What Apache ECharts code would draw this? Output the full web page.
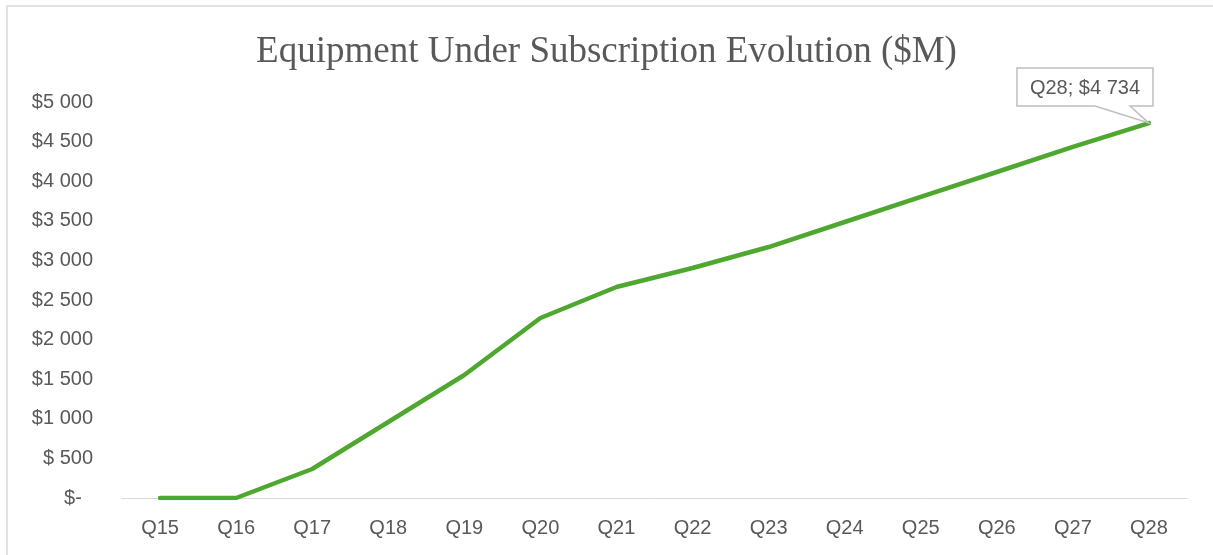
<!DOCTYPE html>
<html>
<head>
<meta charset="utf-8">
<script src="https://cdn.jsdelivr.net/npm/echarts@6/dist/echarts.min.js"></script>
<style>html,body{margin:0;padding:0;background:#fff;}#c{width:1213px;height:555px;}</style>
</head>
<body>
<div id="c"></div>
<script>
const titleText = 'Equipment Under Subscription Evolution ($M)';
const categories = ['Q15','Q16','Q17','Q18','Q19','Q20','Q21','Q22','Q23','Q24','Q25','Q26','Q27','Q28'];
const values = [0, 0, 366, 960, 1553, 2273, 2664, 2904, 3169, 3485, 3801, 4116, 4432, 4734];
const yMin = 0, yMax = 5000, yInterval = 500;
const labelIndex = 13;

function fmtMoney(v) {
  if (v === 0) return '$-  ';
  if (v < 1000) return '$ ' + v;
  return '$' + Math.floor(v / 1000) + ' ' + String(v % 1000).padStart(3, '0');
}

const chart = echarts.init(document.getElementById('c'), null, {renderer: 'canvas'});
const textColor = '#595959';
const option = {
  backgroundColor: '#ffffff',
  animation: false,
  title: {
    text: titleText,
    left: 'center',
    top: 29,
    textStyle: {fontFamily: 'Liberation Serif', fontSize: 37, fontWeight: 'normal', color: textColor}
  },
  grid: {left: 122, right: 26, top: 102, bottom: 57},
  xAxis: {
    type: 'category',
    data: categories,
    boundaryGap: true,
    axisLine: {lineStyle: {color: '#d9d9d9', width: 1}},
    axisTick: {show: false},
    axisLabel: {color: textColor, fontFamily: 'Liberation Sans', fontSize: 20, margin: 20}
  },
  yAxis: {
    type: 'value',
    min: yMin, max: yMax, interval: yInterval,
    axisLine: {show: false},
    axisTick: {show: false},
    splitLine: {show: false},
    axisLabel: {color: textColor, fontFamily: 'Liberation Sans', fontSize: 20, margin: 29, formatter: fmtMoney}
  },
  series: [{
    type: 'line',
    data: values,
    symbol: 'none',
    lineStyle: {color: '#4EA72E', width: 4.5, cap: 'round', join: 'round'},
    itemStyle: {color: '#4EA72E'}
  }]
};
chart.setOption(option);

const tip = chart.convertToPixel({gridIndex: 0}, [labelIndex, values[labelIndex]]);
const tx = tip[0], ty = tip[1];
const L = tx - 132, R = tx + 4, T = ty - 55, B = ty - 17;
chart.setOption({
  graphic: [
    {type: 'rect', shape: {x: 7, y: 6, width: 1230, height: 570}, style: {fill: 'none', stroke: '#d9d9d9', lineWidth: 1.5}, silent: true, z: 0},
    {type: 'polygon', shape: {points: [[L, T], [R, T], [R, B], [tx - 19, B], [tx, ty], [tx - 54, B], [L, B]]},
     style: {fill: '#ffffff', stroke: '#bfbfbf', lineWidth: 1.5}, z: 100},
    {type: 'text', x: (L + R) / 2, y: (T + B) / 2 + 1, z: 101,
     style: {text: categories[labelIndex] + '; ' + fmtMoney(values[labelIndex]), fill: textColor,
             font: '20px "Liberation Sans"', align: 'center', verticalAlign: 'middle'}}
  ]
});
</script>
</body>
</html>
